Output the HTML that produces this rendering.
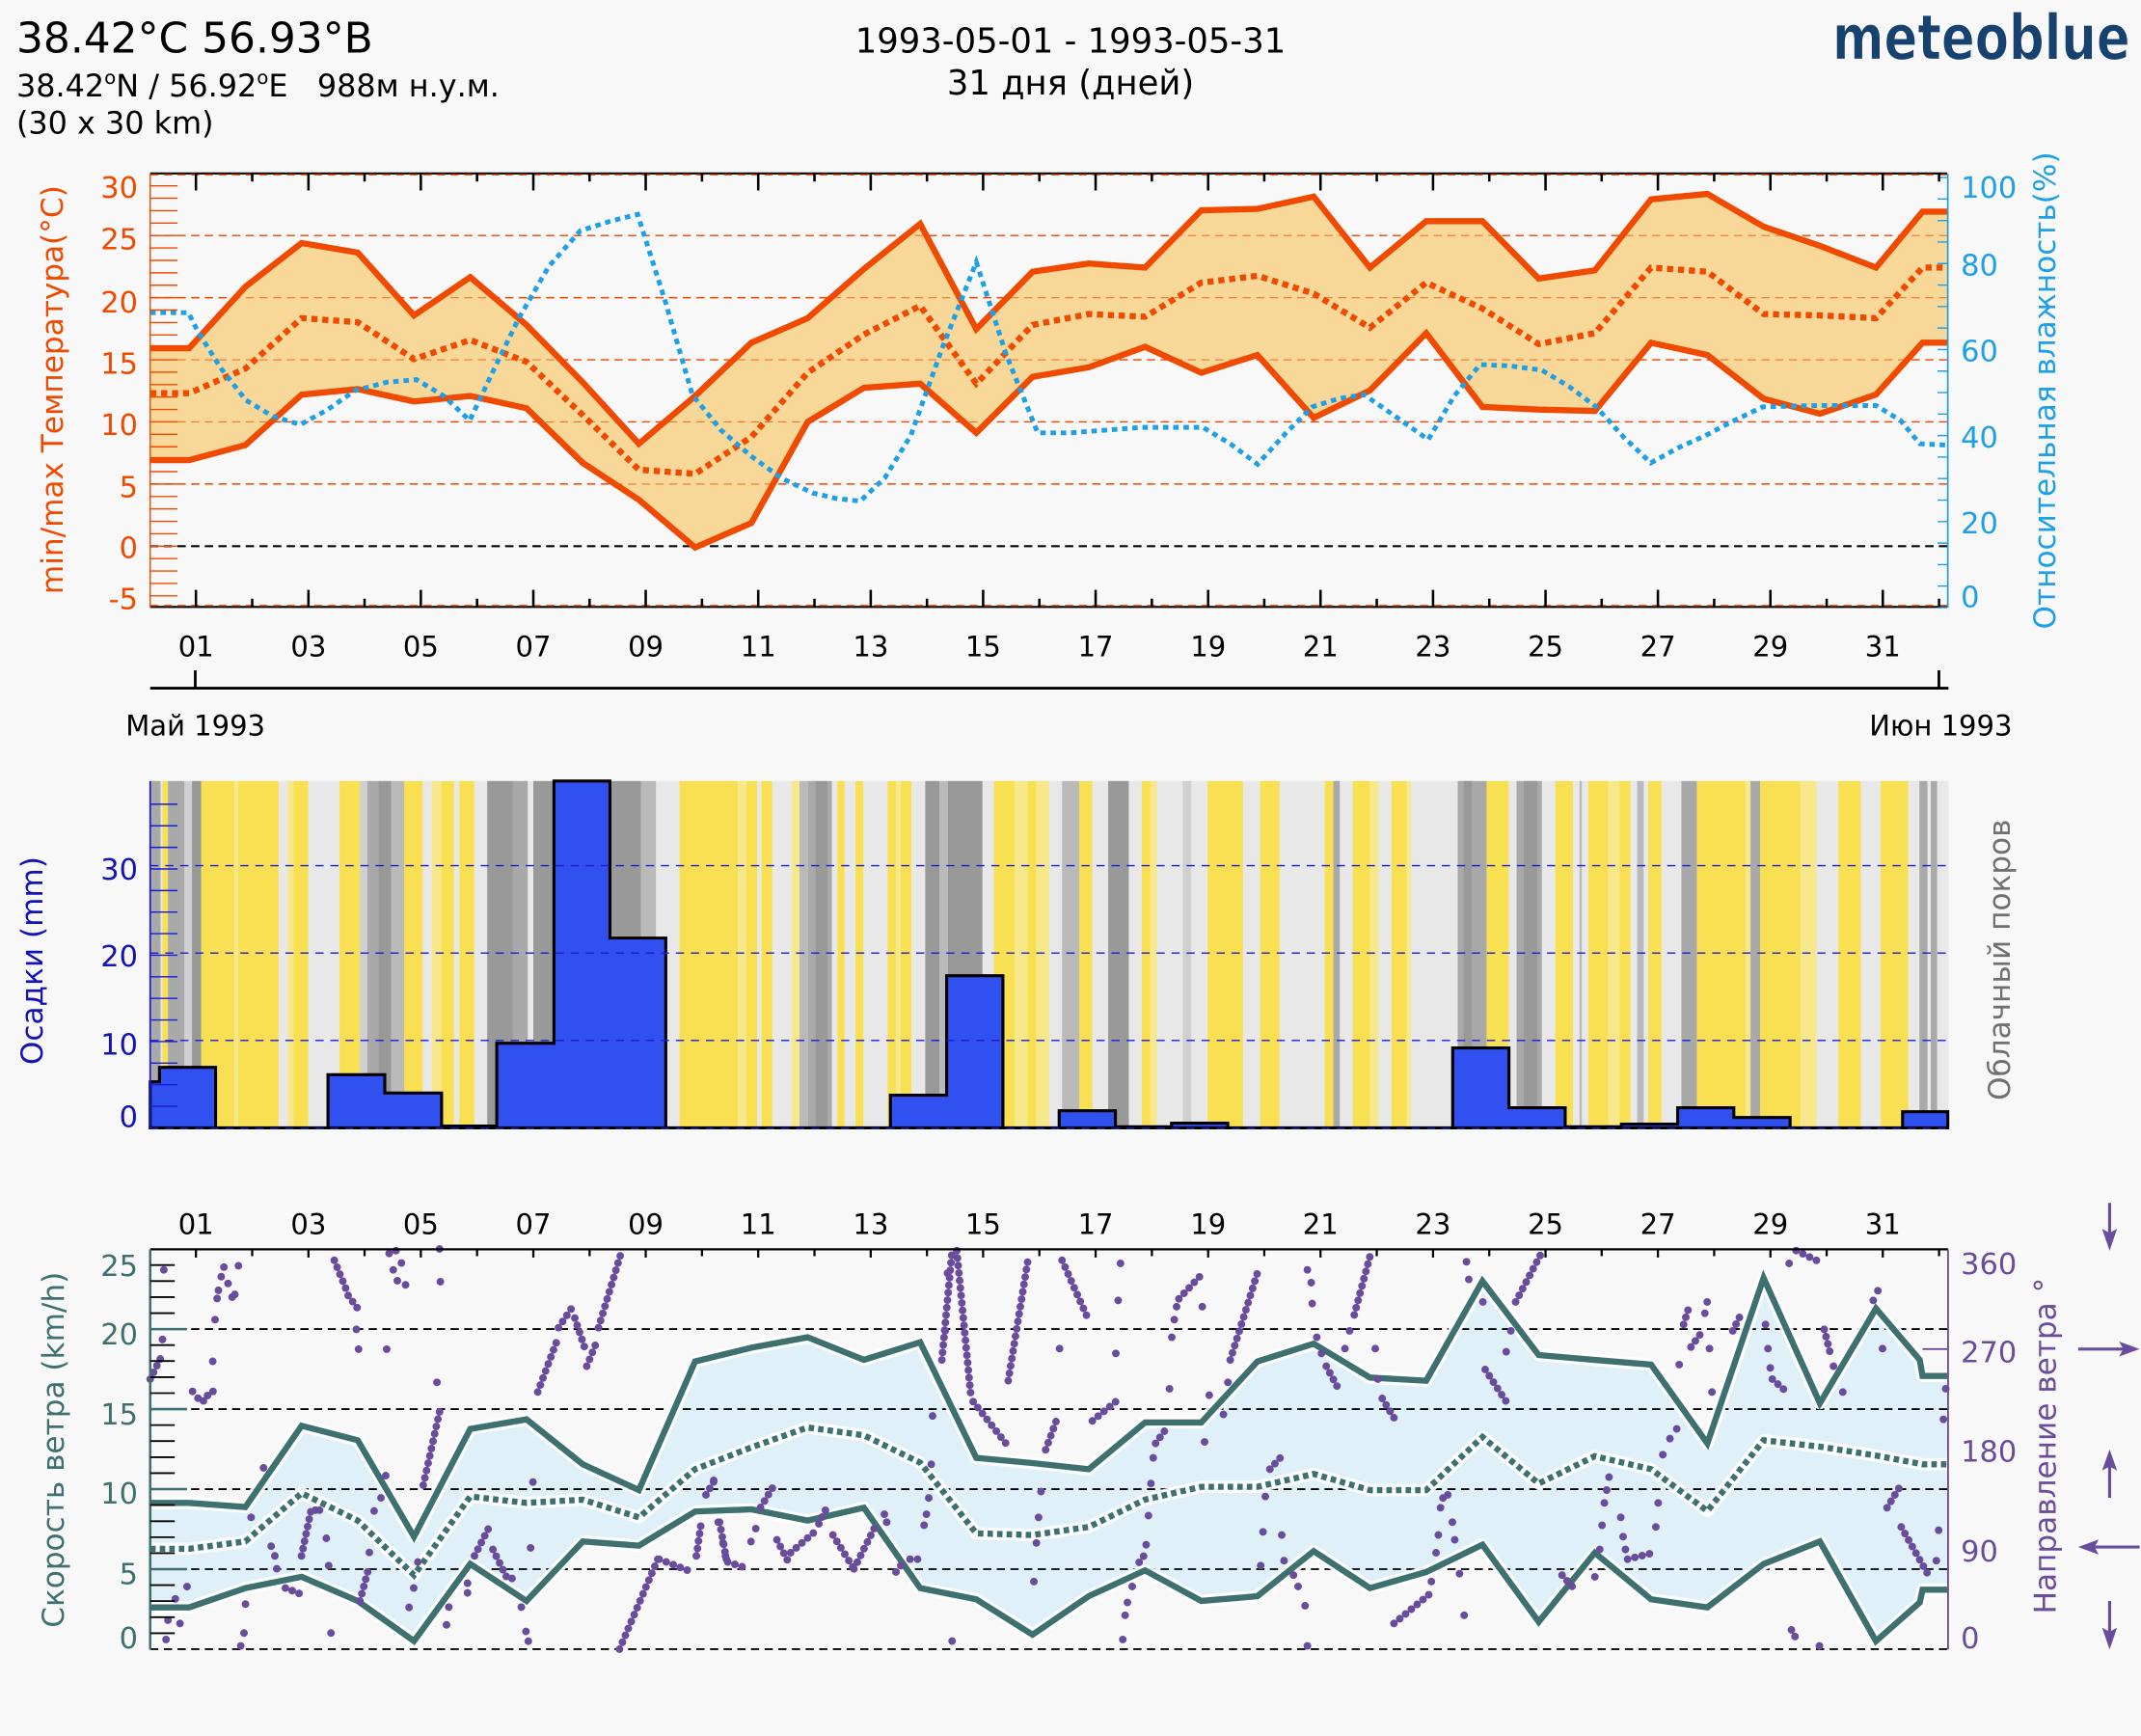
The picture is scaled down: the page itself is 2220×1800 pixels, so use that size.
<!DOCTYPE html>
<html><head><meta charset="utf-8"><style>
html,body{margin:0;padding:0;background:#f8f8f8;}
svg{display:block;font-family:"DejaVu Sans","Liberation Sans",sans-serif;}
</style></head><body>
<svg width="2220" height="1800" viewBox="0 0 1568 1271.4" preserveAspectRatio="none" xmlns="http://www.w3.org/2000/svg">
<rect x="0" y="0" width="1568" height="1271.4" fill="#f8f8f8"/>

<!-- HEADER -->
<text x="12" y="38.4" font-size="31" fill="#000">38.42°C 56.93°B</text>
<text x="12" y="70.6" font-size="22.5" fill="#000" style="white-space:pre">38.42<tspan font-size="14" dy="-9">o</tspan><tspan dy="9">N / 56.92</tspan><tspan font-size="14" dy="-9">o</tspan><tspan dy="9">E   988м н.у.м.</tspan></text>
<text x="12" y="97.7" font-size="22.5" fill="#000">(30 x 30 km)</text>
<text x="784" y="38.5" font-size="25" text-anchor="middle" fill="#000">1993-05-01 - 1993-05-31</text>
<text x="784" y="69.4" font-size="25" text-anchor="middle" fill="#000">31 дня (дней)</text>
<text x="1342" y="43.6" font-size="46" font-weight="bold" fill="#17426f" stroke="#f8f8f8" stroke-width="0.8" textLength="218" lengthAdjust="spacingAndGlyphs">meteoblue</text>

<!-- ================= TOP PANEL ================= -->
<g fill="none" stroke="#f04a00" stroke-width="1" stroke-dasharray="6 4">
<path d="M110 172.5H1426M110 218H1426M110 263.5H1426M110 309H1426M110 354.5H1426"/>
</g>
<path d="M110 400H1426" stroke="#000" stroke-width="1.3" stroke-dasharray="6 4"/>
<polygon fill="#f8d898" points="110,255 138.5,255 179.7,210 220.9,178 262,185 303.2,231 344.4,203 385.6,238 426.8,280 467.9,325 509.1,290 550.3,251 591.5,233 632.7,197 673.9,164 715,241 756.2,199 797.4,193 838.6,196 879.8,154 920.9,153 962.1,144 1003.3,196 1044.5,162 1085.7,162 1126.9,204 1168,198 1209.2,146 1250.4,142 1291.6,166 1332.8,180 1373.9,196 1408,155 1426,155 1426,251 1408,251 1373.9,289 1332.8,303 1291.6,292 1250.4,260 1209.2,251 1168,301 1126.9,300 1085.7,298 1044.5,244 1003.3,286 962.1,306 920.9,260 879.8,273 838.6,254 797.4,269 756.2,276 715,317 673.9,281 632.7,284 591.5,309 550.3,383 509.1,401 467.9,366 426.8,339 385.6,299 344.4,290 303.2,294 262,285 220.9,289 179.7,326 138.5,337 110,337"/>
<g fill="none" stroke="#f04a00" stroke-width="0.8" stroke-dasharray="6 4" opacity="0.7">
<path d="M110 172.5H1426M110 218H1426M110 263.5H1426M110 309H1426M110 354.5H1426"/>
</g>
<path d="M110 400H1426" stroke="#000" stroke-width="1.3" stroke-dasharray="6 4"/>
<g fill="none" stroke="#f04a00" stroke-width="4.5" stroke-linejoin="miter">
<polyline points="110,255 138.5,255 179.7,210 220.9,178 262,185 303.2,231 344.4,203 385.6,238 426.8,280 467.9,325 509.1,290 550.3,251 591.5,233 632.7,197 673.9,164 715,241 756.2,199 797.4,193 838.6,196 879.8,154 920.9,153 962.1,144 1003.3,196 1044.5,162 1085.7,162 1126.9,204 1168,198 1209.2,146 1250.4,142 1291.6,166 1332.8,180 1373.9,196 1408,155 1426,155"/>
<polyline points="110,337 138.5,337 179.7,326 220.9,289 262,285 303.2,294 344.4,290 385.6,299 426.8,339 467.9,366 509.1,401 550.3,383 591.5,309 632.7,284 673.9,281 715,317 756.2,276 797.4,269 838.6,254 879.8,273 920.9,260 962.1,306 1003.3,286 1044.5,244 1085.7,298 1126.9,300 1168,301 1209.2,251 1250.4,260 1291.6,292 1332.8,303 1373.9,289 1408,251 1426,251"/>
<polyline stroke-dasharray="4.5 3.5" points="110,288 138.5,288 179.7,270 220.9,233 262,236 303.2,263 344.4,249 385.6,265 426.8,304 467.9,344 509.1,347 550.3,320 591.5,273 632.7,245 673.9,224 715,281 756.2,238 797.4,230 838.6,232 879.8,207 920.9,202 962.1,215 1003.3,240 1044.5,207 1085.7,226 1126.9,252 1168,244 1209.2,196 1250.4,199 1291.6,230 1332.8,231 1373.9,233 1408,196 1426,196"/>
</g>
<polyline fill="none" stroke="#1e9fe6" stroke-width="3.5" stroke-dasharray="4 3.5" points="110,229 138,229 145,243 162,270 180,293 200,305 220,311 240,300 260,286 283,280 305,278 325,290 344,308 362,270 380,233 402,195 425,169 447,162 467,157 487,220 507,289 528,315 550,334 572,350 595,361 612,365 630,367 648,350 667,319 690,255 715,192 737,260 760,317 784,317 810,315 836,313 860,313 881,313 901,325 921,340 941,318 961,298 980,292 999,289 1022,305 1046,322 1065,290 1084,267 1106,268 1129,271 1149,283 1169,298 1189,320 1209,339 1229,328 1249,319 1270,308 1291,298 1331,297 1374,297 1392,308 1406,325 1426,326"/>
<path d="M110 127H1426" stroke="#000" stroke-width="1.5"/>
<path d="M110 128H1426" stroke="#f04a00" stroke-width="1" stroke-dasharray="6 4"/>
<path d="M110 444.5H1426" stroke="#000" stroke-width="1.5"/>
<path d="M110 443.5H1426" stroke="#f04a00" stroke-width="1" stroke-dasharray="6 4"/>
<path d="M110 127V445" stroke="#f04a00" stroke-width="1"/>
<path d="M1426.5 127V445" stroke="#1e9fe6" stroke-width="1.2"/>
<path stroke="#f04a00" stroke-width="1" fill="none" d="M110 136.1h20M110 145.2h20M110 154.3h20M110 163.4h20M110 172.5h20M110 181.6h20M110 190.7h20M110 199.8h20M110 208.9h20M110 218h20M110 227.1h20M110 236.2h20M110 245.3h20M110 254.4h20M110 263.5h20M110 272.6h20M110 281.7h20M110 290.8h20M110 299.9h20M110 309h20M110 318.1h20M110 327.2h20M110 336.3h20M110 345.4h20M110 354.5h20M110 363.6h20M110 372.7h20M110 381.8h20M110 390.9h20M110 400h20M110 409.1h20M110 418.2h20M110 427.3h20M110 436.4h20"/>
<path stroke="#1e9fe6" stroke-width="1" fill="none" d="M1419 445h7M1419 429.25h7M1419 413.5h7M1419 397.75h7M1419 382h7M1419 366.25h7M1419 350.5h7M1419 334.75h7M1419 319h7M1419 303.25h7M1419 287.5h7M1419 271.75h7M1419 256h7M1419 240.25h7M1419 224.5h7M1419 208.75h7M1419 193h7M1419 177.25h7M1419 161.5h7M1419 145.75h7M1419 130h7"/>
<path stroke="#000" stroke-width="1.8" fill="none" d="M143.5 127v12.5M225.9 127v12.5M308.2 127v12.5M390.6 127v12.5M472.9 127v12.5M555.3 127v12.5M637.7 127v12.5M720 127v12.5M802.4 127v12.5M884.8 127v12.5M967.1 127v12.5M1049.5 127v12.5M1131.9 127v12.5M1214.2 127v12.5M1296.6 127v12.5M1378.9 127v12.5M143.5 444.5v-12.5M225.9 444.5v-12.5M308.2 444.5v-12.5M390.6 444.5v-12.5M472.9 444.5v-12.5M555.3 444.5v-12.5M637.7 444.5v-12.5M720 444.5v-12.5M802.4 444.5v-12.5M884.8 444.5v-12.5M967.1 444.5v-12.5M1049.5 444.5v-12.5M1131.9 444.5v-12.5M1214.2 444.5v-12.5M1296.6 444.5v-12.5M1378.9 444.5v-12.5"/>
<path stroke="#000" stroke-width="1.8" fill="none" d="M184.7 127v6M267 127v6M349.4 127v6M431.8 127v6M514.1 127v6M596.5 127v6M678.9 127v6M761.2 127v6M843.6 127v6M925.9 127v6M1008.3 127v6M1090.7 127v6M1173 127v6M1255.4 127v6M1337.8 127v6M1420.1 127v6M184.7 444.5v-6M267 444.5v-6M349.4 444.5v-6M431.8 444.5v-6M514.1 444.5v-6M596.5 444.5v-6M678.9 444.5v-6M761.2 444.5v-6M843.6 444.5v-6M925.9 444.5v-6M1008.3 444.5v-6M1090.7 444.5v-6M1173 444.5v-6M1255.4 444.5v-6M1337.8 444.5v-6M1420.1 444.5v-6"/>
<g font-size="21.5" fill="#f04a00" text-anchor="end">
<text x="101" y="144.7">30</text><text x="101" y="182.7">25</text><text x="101" y="228.7">20</text><text x="101" y="273.7">15</text><text x="101" y="318.7">10</text><text x="101" y="364.2">5</text><text x="101" y="408.7">0</text><text x="101" y="446.2">-5</text>
</g>
<g font-size="21.5" fill="#1e9fe6">
<text x="1436" y="144.9">100</text><text x="1436" y="201.7">80</text><text x="1436" y="264.7">60</text><text x="1436" y="327.7">40</text><text x="1436" y="390.7">20</text><text x="1436" y="444.7">0</text>
</g>
<text transform="translate(46,285.5) rotate(-90)" text-anchor="middle" font-size="22" fill="#f04a00">min/max Температура(°C)</text>
<text transform="translate(1505,286) rotate(-90)" text-anchor="middle" font-size="22" fill="#1e9fe6">Относительная влажность(%)</text>
<g font-size="20.5" fill="#000" text-anchor="middle">
<text x="143.5" y="480.7">01</text><text x="225.9" y="480.7">03</text><text x="308.2" y="480.7">05</text><text x="390.6" y="480.7">07</text><text x="472.9" y="480.7">09</text><text x="555.3" y="480.7">11</text><text x="637.7" y="480.7">13</text><text x="720" y="480.7">15</text><text x="802.4" y="480.7">17</text><text x="884.8" y="480.7">19</text><text x="967.1" y="480.7">21</text><text x="1049.5" y="480.7">23</text><text x="1131.9" y="480.7">25</text><text x="1214.2" y="480.7">27</text><text x="1296.6" y="480.7">29</text><text x="1378.9" y="480.7">31</text>
</g>
<path d="M110 504H1427M143 491V504M1420 491V504" stroke="#000" stroke-width="2" fill="none"/>
<text x="92" y="538.6" font-size="20.5" fill="#000">Май 1993</text>
<text x="1369" y="538.6" font-size="20.5" fill="#000">Июн 1993</text>

<!-- ================= MIDDLE PANEL ================= -->
<g>
<rect x="110" y="572" width="1317" height="254" fill="#e8e8e8"/>
<g fill="#f9e052">
<rect x="119" y="572" width="4" height="254"/><rect x="147.3" y="572" width="24.3" height="254"/><rect x="174.3" y="572" width="29.7" height="254"/><rect x="214.9" y="572" width="10.8" height="254"/><rect x="248.7" y="572" width="14.8" height="254"/><rect x="296" y="572" width="13.5" height="254"/><rect x="323" y="572" width="9.5" height="254"/><rect x="336.5" y="572" width="10.8" height="254"/><rect x="497.7" y="572" width="42.6" height="254"/><rect x="546.6" y="572" width="7.9" height="254"/><rect x="557.6" y="572" width="7.9" height="254"/><rect x="613.3" y="572" width="5.3" height="254"/><rect x="626.5" y="572" width="5.7" height="254"/><rect x="650.1" y="572" width="6.3" height="254"/><rect x="659.6" y="572" width="7.9" height="254"/><rect x="728" y="572" width="15.2" height="254"/><rect x="752.6" y="572" width="6.3" height="254"/><rect x="790.4" y="572" width="9.5" height="254"/><rect x="836.2" y="572" width="6.3" height="254"/><rect x="884.4" y="572" width="25.9" height="254"/><rect x="922.9" y="572" width="14.2" height="254"/><rect x="970.2" y="572" width="6.3" height="254"/><rect x="990.7" y="572" width="12.6" height="254"/><rect x="1019.1" y="572" width="11" height="254"/><rect x="1088.7" y="572" width="16.2" height="254"/><rect x="1139" y="572" width="12.9" height="254"/><rect x="1163.3" y="572" width="14.6" height="254"/><rect x="1186" y="572" width="8.1" height="254"/><rect x="1207.1" y="572" width="9.7" height="254"/><rect x="1242.7" y="572" width="35.7" height="254"/><rect x="1289" y="572" width="29.5" height="254"/><rect x="1346.3" y="572" width="16.5" height="254"/><rect x="1377.4" y="572" width="20.1" height="254"/>
</g>
<g fill="#f8e88c">
<rect x="171.6" y="572" width="2.7" height="254"/><rect x="210.8" y="572" width="4.1" height="254"/><rect x="316.2" y="572" width="6.8" height="254"/><rect x="540.3" y="572" width="6.3" height="254"/><rect x="579.7" y="572" width="5.8" height="254"/><rect x="656.4" y="572" width="3.2" height="254"/><rect x="743.2" y="572" width="9.4" height="254"/><rect x="758.9" y="572" width="9.5" height="254"/><rect x="842.5" y="572" width="4.7" height="254"/><rect x="1003.3" y="572" width="6.3" height="254"/><rect x="1030.1" y="572" width="3.1" height="254"/><rect x="1177.9" y="572" width="8.1" height="254"/><rect x="1278.4" y="572" width="3.6" height="254"/><rect x="1318.5" y="572" width="11.8" height="254"/>
</g>
<g fill="#d0d0d0"><rect x="135" y="572" width="5.6" height="254"/><rect x="263.5" y="572" width="5.5" height="254"/><rect x="866.1" y="572" width="6.3" height="254"/></g>
<g fill="#bababa"><rect x="286.5" y="572" width="9.5" height="254"/><rect x="469.4" y="572" width="11" height="254"/><rect x="585.5" y="572" width="6.3" height="254"/><rect x="688" y="572" width="6.3" height="254"/><rect x="777.8" y="572" width="12.6" height="254"/><rect x="1156.8" y="572" width="1.7" height="254"/><rect x="1199" y="572" width="4.8" height="254"/></g>
<g fill="#a9a9a9"><rect x="110" y="572" width="7.6" height="254"/><rect x="123" y="572" width="12" height="254"/><rect x="269" y="572" width="8" height="254"/><rect x="375.7" y="572" width="10.8" height="254"/><rect x="591.8" y="572" width="5.2" height="254"/><rect x="606" y="572" width="3.2" height="254"/><rect x="976.5" y="572" width="4.7" height="254"/><rect x="1067.6" y="572" width="21.1" height="254"/><rect x="1110.7" y="572" width="18.5" height="254"/><rect x="1231.4" y="572" width="11.3" height="254"/><rect x="1282" y="572" width="7" height="254"/><rect x="1405.7" y="572" width="5.9" height="254"/><rect x="1414" y="572" width="4.7" height="254"/></g>
<g fill="#999999"><rect x="140.6" y="572" width="6.7" height="254"/><rect x="277" y="572" width="9.5" height="254"/><rect x="356.8" y="572" width="18.9" height="254"/><rect x="390.6" y="572" width="78.8" height="254"/><rect x="597" y="572" width="9" height="254"/><rect x="677.6" y="572" width="10.4" height="254"/><rect x="694.3" y="572" width="25.2" height="254"/><rect x="811.6" y="572" width="15.1" height="254"/><rect x="1072" y="572" width="6" height="254"/><rect x="1116" y="572" width="10" height="254"/></g>
</g>
<path fill="#3050f0" stroke="#000" stroke-width="2.2" stroke-linejoin="miter" d="M110 826V792.3H116.8V781.7H157.9V826H240.2V787.1H281.8V800.5H323.4V824.7H363.8V764H405.7V572H446.7V687H487.6V826H652.1V802.1H693.3V714.6H734.5V826H775.7V813.5H816.9V825.2H858V822.6H899.2V826H1063.9V767.5H1105.1V811.3H1146.3V825.2H1187.5V823.3H1228.7V811.3H1269.8V818.4H1311V826H1393.4V814.2H1426.5V826Z"/>
<g stroke="#1a1ad8" stroke-width="1" stroke-dasharray="6 5" fill="none">
<path d="M110 634H1426.5M110 698H1426.5M110 762H1426.5M110 826.5H1426.5"/>
</g>
<path d="M110 572V826" stroke="#1a1ad8" stroke-width="1.2"/>
<path stroke="#1a1ad8" stroke-width="1" fill="none" d="M110 810.2h20M110 794.4h20M110 778.6h20M110 762.8h20M110 747h20M110 731.2h20M110 715.4h20M110 699.6h20M110 683.8h20M110 668h20M110 652.2h20M110 636.4h20M110 620.6h20M110 604.8h20M110 589h20"/>
<g font-size="21.5" fill="#1414b4" text-anchor="end">
<text x="101" y="825.5">0</text><text x="101" y="772.5">10</text><text x="101" y="707.6">20</text><text x="101" y="644.1">30</text>
</g>
<text transform="translate(31,703.6) rotate(-90)" text-anchor="middle" font-size="22" fill="#1414b4">Осадки (mm)</text>
<text transform="translate(1472,703) rotate(-90)" text-anchor="middle" font-size="22" fill="#707070">Облачный покров</text>

<!-- ================= WIND PANEL ================= -->
<g font-size="20.5" fill="#000" text-anchor="middle">
<text x="143.5" y="903.8">01</text><text x="225.9" y="903.8">03</text><text x="308.2" y="903.8">05</text><text x="390.6" y="903.8">07</text><text x="472.9" y="903.8">09</text><text x="555.3" y="903.8">11</text><text x="637.7" y="903.8">13</text><text x="720" y="903.8">15</text><text x="802.4" y="903.8">17</text><text x="884.8" y="903.8">19</text><text x="967.1" y="903.8">21</text><text x="1049.5" y="903.8">23</text><text x="1131.9" y="903.8">25</text><text x="1214.2" y="903.8">27</text><text x="1296.6" y="903.8">29</text><text x="1378.9" y="903.8">31</text>
</g>
<polygon fill="#dff0f8" points="110,1100.7 138.5,1100.7 179.7,1103.7 220.9,1044.2 262,1054.8 303.2,1125.4 344.4,1046.5 385.6,1039.5 426.8,1072.4 467.9,1091.3 509.1,997.1 550.3,987 591.5,979.4 632.7,995.9 673.9,983 715,1067.7 756.2,1071.5 797.4,1076 838.6,1041.8 879.8,1041.8 920.9,997.1 962.1,984.1 1003.3,1008.9 1044.5,1011.2 1085.7,938.2 1126.9,992.4 1168,996 1209.2,999.4 1250.4,1057.1 1291.6,935.9 1332.8,1027.7 1373.9,958.3 1406,996 1408,1007.7 1426,1007.7 1426,1164.3 1408,1164.3 1406,1173.6 1373.9,1201.9 1332.8,1128.9 1291.6,1145.4 1250.4,1177.2 1209.2,1171.3 1168,1137.2 1126.9,1187.8 1085.7,1131.3 1044.5,1151.3 1003.3,1163.1 962.1,1136 920.9,1169 879.8,1172.5 838.6,1150.1 797.4,1169 756.2,1197.2 715,1171.3 673.9,1163.1 632.7,1104.2 591.5,1113.6 550.3,1105.4 509.1,1107 467.9,1132 426.8,1128.9 385.6,1172.5 344.4,1145.4 303.2,1201.9 262,1172.5 220.9,1154.8 179.7,1163.1 138.5,1177.2 110,1177.2"/>
<g stroke="#000" stroke-width="1.3" stroke-dasharray="6 4" fill="none">
<path d="M110 973.4H1426M110 1032H1426M110 1090.6H1426M110 1149.2H1426M110 1207.8H1426"/>
</g>
<g fill="none" stroke="#ffffff" stroke-width="9" stroke-linejoin="round" opacity="0.9">
<polyline points="110,1100.7 138.5,1100.7 179.7,1103.7 220.9,1044.2 262,1054.8 303.2,1125.4 344.4,1046.5 385.6,1039.5 426.8,1072.4 467.9,1091.3 509.1,997.1 550.3,987 591.5,979.4 632.7,995.9 673.9,983 715,1067.7 756.2,1071.5 797.4,1076 838.6,1041.8 879.8,1041.8 920.9,997.1 962.1,984.1 1003.3,1008.9 1044.5,1011.2 1085.7,938.2 1126.9,992.4 1168,996 1209.2,999.4 1250.4,1057.1 1291.6,935.9 1332.8,1027.7 1373.9,958.3 1406,996 1408,1007.7 1426,1007.7"/>
<polyline points="110,1134.3 138.5,1134.3 179.7,1128.9 220.9,1093.6 262,1113.6 303.2,1153.6 344.4,1096 385.6,1100.7 426.8,1098.3 467.9,1111.3 509.1,1076 550.3,1060 591.5,1045.4 632.7,1051.2 673.9,1071.2 715,1123 756.2,1124.2 797.4,1118.3 838.6,1098.3 879.8,1088.9 920.9,1088.9 962.1,1079.5 1003.3,1091.3 1044.5,1091.3 1085.7,1052.4 1126.9,1086.5 1168,1066.5 1209.2,1076 1250.4,1106.6 1291.6,1054.8 1332.8,1059.5 1373.9,1066 1408,1072.4 1426,1072.4"/>
<polyline points="110,1177.2 138.5,1177.2 179.7,1163.1 220.9,1154.8 262,1172.5 303.2,1201.9 344.4,1145.4 385.6,1172.5 426.8,1128.9 467.9,1132 509.1,1107 550.3,1105.4 591.5,1113.6 632.7,1104.2 673.9,1163.1 715,1171.3 756.2,1197.2 797.4,1169 838.6,1150.1 879.8,1172.5 920.9,1169 962.1,1136 1003.3,1163.1 1044.5,1151.3 1085.7,1131.3 1126.9,1187.8 1168,1137.2 1209.2,1171.3 1250.4,1177.2 1291.6,1145.4 1332.8,1128.9 1373.9,1201.9 1406,1173.6 1408,1164.3 1426,1164.3"/>
</g>
<g fill="none" stroke="#3e7070" stroke-width="4.5" stroke-linejoin="miter">
<polyline points="110,1100.7 138.5,1100.7 179.7,1103.7 220.9,1044.2 262,1054.8 303.2,1125.4 344.4,1046.5 385.6,1039.5 426.8,1072.4 467.9,1091.3 509.1,997.1 550.3,987 591.5,979.4 632.7,995.9 673.9,983 715,1067.7 756.2,1071.5 797.4,1076 838.6,1041.8 879.8,1041.8 920.9,997.1 962.1,984.1 1003.3,1008.9 1044.5,1011.2 1085.7,938.2 1126.9,992.4 1168,996 1209.2,999.4 1250.4,1057.1 1291.6,935.9 1332.8,1027.7 1373.9,958.3 1406,996 1408,1007.7 1426,1007.7"/>
<polyline stroke-dasharray="4 3" points="110,1134.3 138.5,1134.3 179.7,1128.9 220.9,1093.6 262,1113.6 303.2,1153.6 344.4,1096 385.6,1100.7 426.8,1098.3 467.9,1111.3 509.1,1076 550.3,1060 591.5,1045.4 632.7,1051.2 673.9,1071.2 715,1123 756.2,1124.2 797.4,1118.3 838.6,1098.3 879.8,1088.9 920.9,1088.9 962.1,1079.5 1003.3,1091.3 1044.5,1091.3 1085.7,1052.4 1126.9,1086.5 1168,1066.5 1209.2,1076 1250.4,1106.6 1291.6,1054.8 1332.8,1059.5 1373.9,1066 1408,1072.4 1426,1072.4"/>
<polyline points="110,1177.2 138.5,1177.2 179.7,1163.1 220.9,1154.8 262,1172.5 303.2,1201.9 344.4,1145.4 385.6,1172.5 426.8,1128.9 467.9,1132 509.1,1107 550.3,1105.4 591.5,1113.6 632.7,1104.2 673.9,1163.1 715,1171.3 756.2,1197.2 797.4,1169 838.6,1150.1 879.8,1172.5 920.9,1169 962.1,1136 1003.3,1163.1 1044.5,1151.3 1085.7,1131.3 1126.9,1187.8 1168,1137.2 1209.2,1171.3 1250.4,1177.2 1291.6,1145.4 1332.8,1128.9 1373.9,1201.9 1406,1173.6 1408,1164.3 1426,1164.3"/>
</g>
<path fill="none" stroke="#6a4c9c" stroke-width="5.6" stroke-linecap="round" d="M120 930h0M119 981h0M121.6 1200.7h0M123 1186.6h0M131.8 1189h0M137 1162h0M128.4 1171h0M141 1019h0M145 1024h0M149 1026h0M152 1022h0M156 1019h0M155.8 997h0M157.5 966.5h0M159 951h0M160 945h0M162 935h0M164 928h0M167 940h0M170 950h0M172 948h0M174.6 927h0M183.9 1111.3h0M179.8 1174.8h0M178.7 1196h0M176.3 1205.4h0M193 1075h0M198.6 1132.4h0M201.3 1139.5h0M202.7 1148.9h0M209 1163h0M214 1165h0M219 1167h0M231 1106h0M234 1106h0M239 1126.6h0M240.7 1146.6h0M242.4 1196h0M261 973.6h0M262.6 988.1h0M283.2 988.1h0M270.5 1137h0M274 1106.6h0M279 1097h0M282.5 1080.7h0M285 918h0M288 930h0M291 938h0M294 925h0M297 941h0M290 916h0M299.6 1177.2h0M303 1163h0M306 1144h0M320 1012.4h0M321.9 914.7h0M322.5 938.7h0M327 1190h0M328.7 1177h0M342.4 1166.6h0M342.4 1159.5h0M375 1156h0M381.8 1177h0M385.2 1194.8h0M386.9 1202h0M388.6 1133.6h0M390.3 1085.4h0M526 1114.8h0M529.5 1130h0M531.3 1139.5h0M550 1129h0M553.5 1119.5h0M683 1037h0M692.2 974.7h0M693.9 932.4h0M647.7 1109h0M649.4 1114.8h0M656.2 1151.3h0M659.7 1146.6h0M676.8 1117h0M678.5 1109h0M680.2 1097.1h0M682 1072.4h0M697.3 1201.9h0M757.2 1158.3h0M759 1130h0M760.6 1111.3h0M762.4 1092.4h0M776 987.7h0M817.2 991.2h0M818.9 952.4h0M820.6 925.3h0M822.3 1200.7h0M824 1183h0M825.7 1173.6h0M829.2 1161.9h0M839.4 1131.3h0M841.1 1110h0M842.9 1086.5h0M844.6 1067.7h0M856.5 1017.1h0M858.2 979.4h0M860 966.5h0M861.7 957h0M880.5 957h0M882.2 1056h0M885.6 1021.8h0M896 1035.9h0M899.3 1012.4h0M923.3 1146.6h0M925 1121.9h0M926.7 1096h0M938.7 1124.2h0M940.4 1143h0M947.3 1153.6h0M950.7 1161.9h0M955.8 1176h0M957.5 1205.4h0M957.5 930h0M960.3 939.4h0M961 954.7h0M964.4 979.4h0M967.8 991.2h0M985 987.7h0M988.4 974.7h0M1007.2 987.7h0M1009 1010h0M1048.3 1158.3h0M1051.7 1137.2h0M1053.4 1124.2h0M1055 1104.2h0M1056.8 1097.1h0M1060.3 1094.8h0M1063.7 1114.8h0M1065.4 1127.7h0M1068.9 1152.5h0M1072.3 1183h0M1074 924.1h0M1075.7 937h0M1086 953.5h0M1103.1 990h0M1106.5 974.7h0M1168 1154.8h0M1171.6 1134.8h0M1173.3 1117.1h0M1175 1100.7h0M1176.7 1091.3h0M1178.4 1081.8h0M1187 1111.3h0M1188.7 1125.4h0M1190.4 1134.8h0M1212.7 1118.3h0M1214.4 1100.7h0M1217.8 1065.4h0M1223 1053.6h0M1228 1046.5h0M1229.8 999.4h0M1248.6 961.8h0M1250.3 953.5h0M1252 987.7h0M1253.8 1019.5h0M1293 970h0M1294.8 987.7h0M1296.5 1001.8h0M1310.3 925.3h0M1332.5 1205.4h0M1342.8 1000.6h0M1349.6 1019.5h0M1371.9 952.4h0M1375.3 945.3h0M1378.7 987.7h0M1418.1 1143h0M1419.8 1120.7h0M1423.3 1039.5h0M1425 1017.1h0"/>
<path fill="none" stroke="#6a4c9c" stroke-width="5.6" stroke-linecap="round" stroke-dasharray="0 5.5" d="M110 1010L118 994M220.8 1139.5L227.7 1106.6M244.8 923L253.4 944M255 948.8L262 958.3M263.6 1172.5L270.5 1146.6M310 1087.7L322 1033.6M347.5 1139.5L359.5 1116M361 1134.8L371.5 1156M393.8 1019.5L407.5 983M409 972.4L419.4 957M421 965.3L428 986.5M429.7 1000.6L436.5 984M438.3 972.4L455.4 915.9M453.7 1207.8L482.8 1139.5M482.8 1141.9L506.8 1151.3M510 1139.5L513.6 1114.8M517 1094.8L524 1083M527 1114.8L532.4 1144.2M522.7 1084.2L527.8 1084.2M533 1144L548.4 1149M557 1104L567 1087.7M569 1127.7L577.5 1144.2M579 1137.2L598 1120.7M599.7 1116L606.6 1101.8M610 1124.2L625.4 1149M625.4 1149L640.8 1118.3M666.5 1141.9L675 1141.9M689.8 996L697.3 915.9M700.7 915.9L711 1021.8M712.7 1026.5L736.7 1057.1M738.4 1011.2L752.8 923M765.8 1061.8L774.4 1038.3M777.8 923L796.6 965.3M800 1040.6L817.2 1026.5M834.3 1144.2L837.7 1139.5M846.3 1057.1L854.8 1045.4M863.4 951.2L878.8 934.7M901 996L921.6 930M930 1076L938.7 1066.5M971.3 1000.6L981.5 1019.5M991.8 963L1003.8 918.2M1012.3 1024.2L1020.9 1038.3M1020.9 1189L1046.6 1167.8M1087.7 1003L1103.1 1026.5M1110 953.5L1130.5 914.7M1144 1153.6L1154.5 1165.4M1192 1141.9L1211 1137.2M1233 970L1236.6 958.3M1238.4 986.5L1247 974.7M1269 974.7L1276 960.6M1298 1010L1308.5 1019.5M1315.4 915.9L1332.5 924.1M1312 1193.7L1317 1203M1336 973.6L1341 993.5M1382 1104.2L1390.7 1090M1392.4 1118.3L1413 1154.8"/>
<path d="M110 915H1426.7" stroke="#000" stroke-width="1.6"/>
<path stroke="#000" stroke-width="1.6" fill="none" d="M143.5 915v6M184.7 915v5M225.9 915v6M267 915v5M308.2 915v6M349.4 915v5M390.6 915v6M431.8 915v5M472.9 915v6M514.1 915v5M555.3 915v6M596.5 915v5M637.7 915v6M678.9 915v5M720 915v6M761.2 915v5M802.4 915v6M843.6 915v5M884.8 915v6M925.9 915v5M967.1 915v6M1008.3 915v5M1049.5 915v6M1090.7 915v5M1131.9 915v6M1173 915v5M1214.2 915v6M1255.4 915v5M1296.6 915v6M1337.8 915v5M1378.9 915v6M1420.1 915v5"/>
<path d="M110 915V1208" stroke="#3e7070" stroke-width="1.8"/>
<path d="M1426.7 915V1208" stroke="#6a4c9c" stroke-width="1.3"/>
<path stroke="#000" stroke-width="1.3" fill="none" d="M110 1196.1h18M110 1184.4h18M110 1172.6h18M110 1160.9h18M110 1137.5h18M110 1125.8h18M110 1114.1h18M110 1102.3h18M110 1078.9h18M110 1067.2h18M110 1055.4h18M110 1043.7h18M110 1020.3h18M110 1008.6h18M110 996.8h18M110 985.1h18M110 961.7h18M110 950h18M110 938.2h18M110 926.5h18"/>
<path stroke="#3e7070" stroke-width="1.8" fill="none" d="M110 1149.2h27M110 1090.6h27M110 1032h27M110 973.4h27"/>
<path stroke="#6a4c9c" stroke-width="1.3" fill="none" d="M1408 988h18"/>
<g font-size="21.5" fill="#3e7070" text-anchor="end">
<text x="101" y="934.5">25</text><text x="101" y="984.6">20</text><text x="101" y="1043.1">15</text><text x="101" y="1101.2">10</text><text x="101" y="1160.1">5</text><text x="101" y="1207.1">0</text>
</g>
<g font-size="21.5" fill="#6a4c9c">
<text x="1436" y="932.9">360</text><text x="1436" y="997.6">270</text><text x="1436" y="1070.6">180</text><text x="1436" y="1143.6">90</text><text x="1436" y="1207.1">0</text>
</g>
<text transform="translate(46.5,1061.8) rotate(-90)" text-anchor="middle" font-size="22" fill="#3e7070">Скорость ветра (km/h)</text>
<text transform="translate(1505.5,1182) rotate(-90)" text-anchor="start" font-size="22" fill="#6a4c9c">Направление ветра °</text>
<g stroke="#6a4c9c" stroke-width="2.2" fill="#6a4c9c">
<path d="M1545 881V905"/><polygon stroke="none" points="1539.5,900 1545,916 1550.5,900 1545,903"/>
<path d="M1522 988H1556"/><polygon stroke="none" points="1552,982.5 1567,988 1552,993.5 1555,988"/>
<path d="M1545 1073V1097"/><polygon stroke="none" points="1539.5,1077 1545,1061.5 1550.5,1077 1545,1074"/>
<path d="M1533 1133H1567"/><polygon stroke="none" points="1537,1127.5 1522,1133 1537,1138.5 1534,1133"/>
<path d="M1545 1172.5V1197"/><polygon stroke="none" points="1539.5,1192 1545,1208 1550.5,1192 1545,1195"/>
</g>
</svg>
</body></html>
